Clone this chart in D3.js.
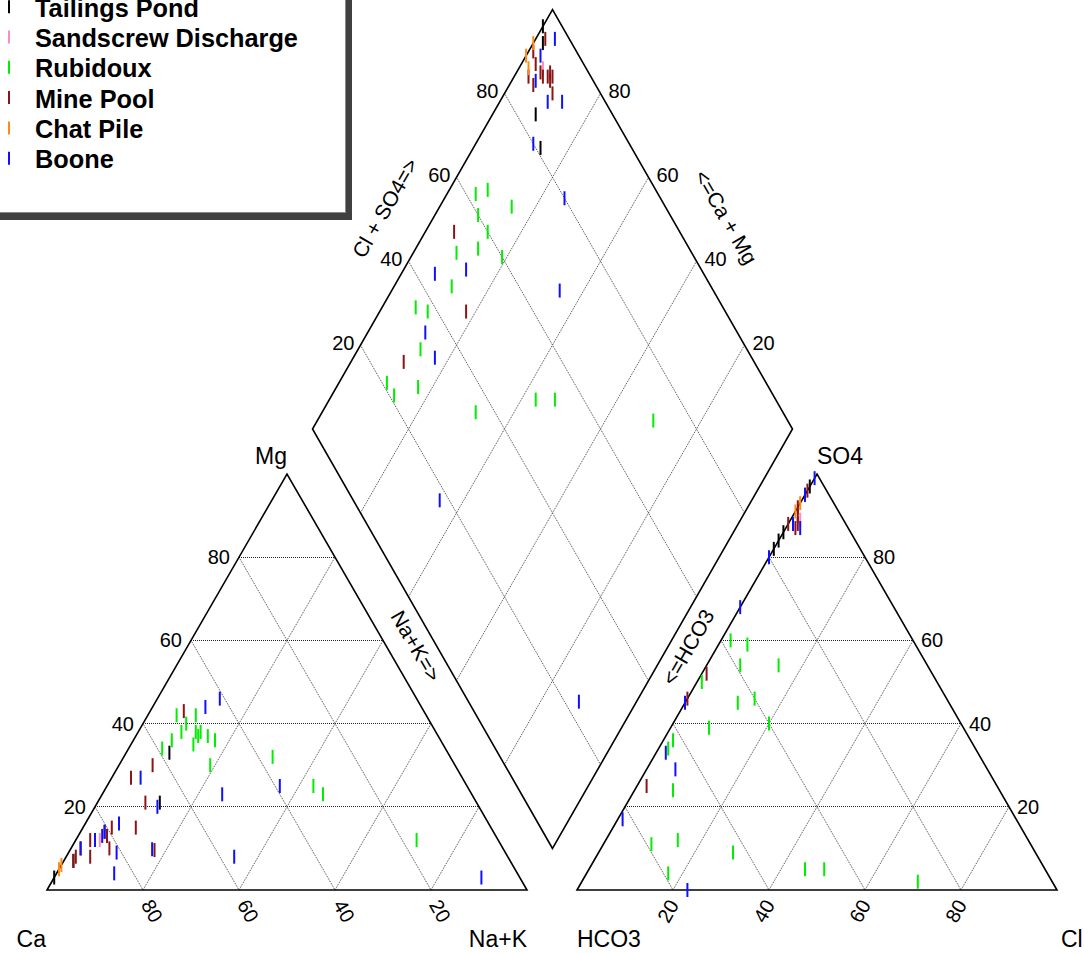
<!DOCTYPE html>
<html>
<head>
<meta charset="utf-8">
<script src="https://cdn.jsdelivr.net/npm/d3@7"></script>
<style>
  body { margin: 0; background: #fff; }
  svg { display: block; }
  text { font-family: "Liberation Sans", Arial, Helvetica, sans-serif; fill: #000; }
</style>
</head>
<body>
<svg id="chart" width="1084" height="953"></svg>
<script>
// ---- Series ----
const seriesNames  = ["Tailings Pond", "Sandscrew Discharge", "Rubidoux", "Mine Pool", "Chat Pile", "Boone"];
const seriesColors = ["#000000", "#ff8cbc", "#00ee00", "#8b1414", "#ff8a14", "#1010ff"];

// ---- Cations, % meq: [Ca, Mg, Na+K] ----
const tailingsCations  = [[97,3,0],[91,7,2],[58,33,9],[66,21,13]];
const sandscrewCations = [[83,12,5]];
const rubidouxCations  = [[52,42,6],[53,38,9],[51,40,9],[50,38,12],[48,42,10],[49,38,13],[50,37,13],[52,35,13],
                          [48,37,15],[47,36,17],[51,30,19],[59,34,7],[56,36,8],[37,32,31],[32,25,43],[31,23,46],[17,12,71]];
const mineCations      = [[91,7,2],[90,8,2],[88,10,2],[85,12,3],[87,8,5],[81,13,6],[82,10,8],[79,15,6],[81,14,5],
                          [74,15,11],[69,27,4],[63,30,7],[69,21,10],[72.8,9.6,17.6],[50,43,7]];
const chatCations      = [[95,5,0],[94,6,0]];
const booneCations     = [[88,10,2],[84,12,4],[82,13,5],[81,14,5],[77,16,7],[81,9,10],[84,4,12],[67,27,6],[67,20,13],
                          [73.2,9.8,17],[45,44,11],[41,46,13],[52,23,25],[57,8,35],[39,25,36],[8,3,89]];

// ---- Anions, % meq: [HCO3, SO4, Cl] ----
const tailingsAnions  = [[3,97,0],[18,82,0],[16,84,0],[14,86,0]];
const sandscrewAnions = [[9,89,2]];
const rubidouxAnions  = [[38,60,2],[35,59,6],[39,54,7],[31,54,15],[49,50,1],[44,45,11],[40,46,14],[53,39,8],[40,40,20],
                         [62,36,2],[64,34,2],[68,24,8],[79,11,10],[73,12,15],[79,4,17],[63,9,28],[50,5,45],[46,5,49],[28,2,70]];
const mineAnions      = [[5,95,0],[8,92,0],[12,88,0],[11,87,2],[9,90,1],[10,88,2],[4,96,0],[47,52,1],[54,46,0],[73,25,2]];
const chatAnions      = [[9,91,0],[7,93,0]];
const booneAnions     = [[1,99,0],[5,95,0],[11,88,1],[10,87,3],[20,80,0],[32,68,0],[55,45,0],[65,33,2],[65,29,6],[82,17,1],[77,0,23]];

// ---- Diamond field: [Cl+SO4, Ca+Mg] ----
const tailingsDiamond  = [[96,100],[94,98],[84,91],[81,86]];
const sandscrewDiamond = [[91,95]];
const rubidouxDiamond  = [[62,94],[65,92],[68,85],[60,91],[60,87],[51,91],[56,87],[60,81],[46,88],[36,93],[38,90],
                          [32,87],[21,90],[21,87],[27,83],[36,68],[50,57],[54,53],[72,30]];
const mineDiamond      = [[53,94],[46,82],[27,89],[91,99],[95,98],[90,97],[87,97],[87,95],[90,94],[91,93],[92,93],
                          [92,92],[91,92],[90,90],[90,95]];
const chatDiamond      = [[92,100],[89,100],[88,98]];
const booneDiamond     = [[97,96],[92,97],[88,95],[88,90],[91,87],[80,88],[80,75],[68,65],[44,93],[35,88],[34,83],
                          [51,87],[18,65],[23,12]];

// ---- Axis ticks ----
const gridLevels = [20, 40, 60, 80];
const tickLabels = ["20", "40", "60", "80"];

const series = seriesNames.map((name, i) => ({
  name, color: seriesColors[i],
  cations: [tailingsCations, sandscrewCations, rubidouxCations, mineCations, chatCations, booneCations][i],
  anions:  [tailingsAnions, sandscrewAnions, rubidouxAnions, mineAnions, chatAnions, booneAnions][i],
  diamond: [tailingsDiamond, sandscrewDiamond, rubidouxDiamond, mineDiamond, chatDiamond, booneDiamond][i]
}));

// ---- Scales ----
const catX  = d3.scaleLinear().domain([0, 100]).range([47, 527]);
const anX   = d3.scaleLinear().domain([0, 100]).range([577, 1057]);
const triY  = d3.scaleLinear().domain([0, 100]).range([890, 474]);
const diaX  = d3.scaleLinear().domain([-100, 100]).range([312.5, 792.5]);
const diaY  = d3.scaleLinear().domain([0, 200]).range([848.5, 9.5]);

function cationPos([ca, mg, nak]) {
  const s = ca + mg + nak, m = mg / s * 100, n = nak / s * 100;
  return [catX(n + m / 2), triY(m)];
}
function anionPos([hco3, so4, cl]) {
  const s = hco3 + so4 + cl, m = so4 / s * 100, n = cl / s * 100;
  return [anX(n + m / 2), triY(m)];
}
function diamondPos([cs, cm]) {
  return [diaX(cs - cm), diaY(cs + cm)];
}

const svg = d3.select("#chart");
const line = d3.line();

// ---- Grid ----
const grid = svg.append("g").attr("fill", "none");
function gridLine(a, b, horizontal) {
  grid.append("path")
    .attr("d", line([a, b]))
    .attr("stroke", horizontal ? "#222" : "#444")
    .attr("stroke-width", 1)
    .attr("stroke-dasharray", "1 1")
    .attr("shape-rendering", horizontal ? "crispEdges" : null);
}
gridLevels.forEach(v => {
  // cation triangle
  gridLine(cationPos([100 - v, v, 0]), cationPos([0, v, 100 - v]), true);
  gridLine(cationPos([v, 100 - v, 0]), cationPos([v, 0, 100 - v]));
  gridLine(cationPos([100 - v, 0, v]), cationPos([0, 100 - v, v]));
  // anion triangle
  gridLine(anionPos([100 - v, v, 0]), anionPos([0, v, 100 - v]), true);
  gridLine(anionPos([v, 100 - v, 0]), anionPos([v, 0, 100 - v]));
  gridLine(anionPos([100 - v, 0, v]), anionPos([0, 100 - v, v]));
  // diamond
  gridLine(diamondPos([v, 0]), diamondPos([v, 100]));
  gridLine(diamondPos([0, v]), diamondPos([100, v]));
});

// ---- Outlines ----
const outline = svg.append("g").attr("fill", "none").attr("stroke", "#000").attr("stroke-width", 1.6);
outline.append("path").attr("d", line([cationPos([100,0,0]), cationPos([0,100,0]), cationPos([0,0,100])]) + "Z");
outline.append("path").attr("d", line([anionPos([100,0,0]), anionPos([0,100,0]), anionPos([0,0,100])]) + "Z");
outline.append("path").attr("d", line([diamondPos([0,0]), diamondPos([0,100]), diamondPos([100,100]), diamondPos([100,0])]) + "Z");

// ---- Tick labels ----
const ticks = svg.append("g").attr("font-size", 20);
gridLevels.forEach((v, i) => {
  let p = cationPos([100 - v, v, 0]);
  ticks.append("text").attr("x", p[0] - 9).attr("y", p[1]).attr("text-anchor", "end")
    .attr("dominant-baseline", "central").text(tickLabels[i]);
  p = anionPos([0, v, 100 - v]);
  ticks.append("text").attr("x", p[0] + 8).attr("y", p[1]).attr("text-anchor", "start")
    .attr("dominant-baseline", "central").text(tickLabels[i]);
  p = cationPos([v, 0, 100 - v]);
  ticks.append("text").attr("transform", `translate(${p[0] + 9},${p[1] + 21}) rotate(60)`)
    .attr("text-anchor", "middle").attr("dominant-baseline", "central").text(tickLabels[i]);
  p = anionPos([100 - v, 0, v]);
  ticks.append("text").attr("transform", `translate(${p[0] - 5},${p[1] + 21}) rotate(-60)`)
    .attr("text-anchor", "middle").attr("dominant-baseline", "central").text(tickLabels[i]);
  p = diamondPos([v, 100]);
  ticks.append("text").attr("x", p[0] - 6).attr("y", p[1] - 2).attr("text-anchor", "end")
    .attr("dominant-baseline", "central").text(tickLabels[i]);
  p = diamondPos([100, v]);
  ticks.append("text").attr("x", p[0] + 8).attr("y", p[1] - 2).attr("text-anchor", "start")
    .attr("dominant-baseline", "central").text(tickLabels[i]);
});

// ---- Axis titles ----
const titles = svg.append("g").attr("font-size", 21);
[["Cl + SO4=>", 385, 208, -60], ["<=Ca + Mg", 726, 217, 60],
 ["Na+K=>", 416, 646, 60], ["<=HCO3", 688, 647, -60]].forEach(([t, x, y, r]) => {
  titles.append("text").attr("transform", `translate(${x},${y}) rotate(${r})`)
    .attr("text-anchor", "middle").attr("dominant-baseline", "central").text(t);
});
const vtx = svg.append("g").attr("font-size", 23);
const mgApex = cationPos([0,100,0]), so4Apex = anionPos([0,100,0]);
vtx.append("text").attr("x", mgApex[0]).attr("y", mgApex[1] - 10).attr("text-anchor", "end").text("Mg");
vtx.append("text").attr("x", so4Apex[0]).attr("y", so4Apex[1] - 10).attr("text-anchor", "start").text("SO4");
vtx.append("text").attr("x", catX(0) - 1).attr("y", 947).attr("text-anchor", "end").text("Ca");
vtx.append("text").attr("x", catX(100)).attr("y", 947).attr("text-anchor", "end").text("Na+K");
vtx.append("text").attr("x", anX(0)).attr("y", 947).attr("text-anchor", "start").text("HCO3");
vtx.append("text").attr("x", anX(100) + 4).attr("y", 947).attr("text-anchor", "start").text("Cl");

// ---- Sample markers ----
const marks = svg.append("g").attr("stroke-width", 2);
series.forEach(s => {
  const pts = [...s.cations.map(cationPos), ...s.anions.map(anionPos), ...s.diamond.map(diamondPos)];
  marks.append("g").attr("stroke", s.color)
    .selectAll("line").data(pts).join("line")
    .attr("x1", d => d[0]).attr("x2", d => d[0])
    .attr("y1", d => d[1] - 7).attr("y2", d => d[1] + 7);
});

// ---- Legend ----
const legend = svg.append("g");
legend.append("rect").attr("x", -20).attr("y", -20).attr("width", 372).attr("height", 240).attr("fill", "#404040");
legend.append("rect").attr("x", -20).attr("y", -20).attr("width", 365.5).attr("height", 232.5)
  .attr("fill", "#fff").attr("stroke", "#888").attr("stroke-width", 1);
series.forEach((s, i) => {
  const base = 16.7 + 30.3 * i;
  legend.append("line").attr("x1", 9).attr("x2", 9).attr("y1", base - 16.5).attr("y2", base - 3.5)
    .attr("stroke", s.color).attr("stroke-width", 2);
  legend.append("text").attr("x", 35).attr("y", base).attr("font-size", 25.3).attr("font-weight", "bold").text(s.name);
});
</script>
</body>
</html>
